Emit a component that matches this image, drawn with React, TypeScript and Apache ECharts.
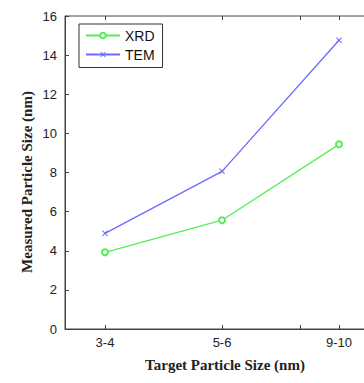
import React, { useEffect, useRef } from "react";
import * as echarts from "echarts";

const categories = ["3-4", "5-6", "9-10"];
const xPositions = [1, 2, 3];
const xrdValues = [3.92, 5.56, 9.44];
const temValues = [4.89, 8.06, 14.76];
const xTickPositions = [1, 2, 2.667, 3];
const yTicks = [0, 2, 4, 6, 8, 10, 12, 14, 16];

const crossPath =
  "path://M0,0.12 L0.12,0 L0.5,0.38 L0.88,0 L1,0.12 L0.62,0.5 L1,0.88 L0.88,1 L0.5,0.62 L0.12,1 L0,0.88 L0.38,0.5 Z";

export default function App() {
  const ref = useRef<HTMLDivElement>(null);
  useEffect(() => {
    if (!ref.current) return;
    const chart = echarts.init(ref.current, undefined, { renderer: "svg" });
    const axisColor = "#444";
    const labelFont = { fontFamily: "Liberation Sans, Arial, sans-serif", fontSize: 13, color: "#222" };
    const titleFont = { fontFamily: "Liberation Serif, Times New Roman, serif", fontSize: 15, fontWeight: "bold", color: "#222" };
    chart.setOption({
      animation: false,
      backgroundColor: "#fff",
      grid: {
        left: 65,
        top: 16,
        bottom: 54,
        right: 0,
        show: true,
        borderColor: axisColor,
        borderWidth: 1,
        backgroundColor: "transparent",
      },
      legend: {
        left: 79,
        top: 24,
        orient: "vertical",
        itemWidth: 34,
        itemHeight: 7,
        itemGap: 5,
        padding: [4.5, 8, 6, 6],
        borderColor: "#333",
        borderWidth: 1,
        backgroundColor: "#fff",
        textStyle: { fontFamily: "Liberation Sans, Arial, sans-serif", fontSize: 14, color: "#111" },
        data: ["XRD", "TEM"],
      },
      graphic: [
        {
          type: "text",
          x: 27,
          y: 182,
          rotation: Math.PI / 2,
          style: {
            text: "Measured Particle Size (nm)",
            align: "center",
            verticalAlign: "middle",
            font: "bold 15px 'Liberation Serif', 'Times New Roman', serif",
            fill: "#222",
          },
        },
      ],
      xAxis: [
        {
          type: "value",
          min: 0.658,
          max: 3.393,
          name: "Target Particle Size (nm)",
          nameLocation: "middle",
          nameGap: 28,
          nameTextStyle: titleFont,
          axisLine: { show: true, lineStyle: { color: axisColor, width: 1 } },
          axisTick: { show: true, inside: true, length: 4, customValues: xTickPositions, lineStyle: { color: axisColor } },
          axisLabel: {
            ...labelFont,
            margin: 7,
            customValues: xPositions,
            formatter: (v: number) => {
              const i = xPositions.indexOf(Math.round(v));
              return i >= 0 ? categories[i] : "";
            },
          },
          splitLine: { show: false },
        },
        {
          type: "value",
          position: "top",
          min: 0.658,
          max: 3.393,
          axisLine: { show: false },
          axisTick: { show: true, inside: true, length: 4, customValues: xTickPositions, lineStyle: { color: axisColor } },
          axisLabel: { show: false },
          splitLine: { show: false },
        },
      ],
      yAxis: {
        type: "value",
        min: 0,
        max: 16,
        interval: 2,
        axisLine: { show: true, lineStyle: { color: axisColor, width: 1 } },
        axisTick: { show: true, inside: true, length: 4, lineStyle: { color: axisColor } },
        axisLabel: { ...labelFont, margin: 8, customValues: yTicks },
        splitLine: { show: false },
      },
      series: [
        {
          name: "XRD",
          type: "line",
          data: xPositions.map((x, i) => [x, xrdValues[i]]),
          symbol: "emptyCircle",
          symbolSize: 6,
          lineStyle: { color: "#55ee55", width: 1.3 },
          itemStyle: { color: "#55ee55", borderColor: "#55ee55", borderWidth: 1.3 },
        },
        {
          name: "TEM",
          type: "line",
          data: xPositions.map((x, i) => [x, temValues[i]]),
          symbol: crossPath,
          symbolSize: 6,
          lineStyle: { color: "#6b6bff", width: 1.3 },
          itemStyle: { color: "#6b6bff" },
        },
      ],
    });
    return () => chart.dispose();
  }, []);
  return (
    <div style={{ position: "fixed", left: 0, top: 0, width: 364, height: 383, overflow: "hidden", background: "#fff" }}>
      <div ref={ref} style={{ width: 385, height: 383 }} />
    </div>
  );
}
